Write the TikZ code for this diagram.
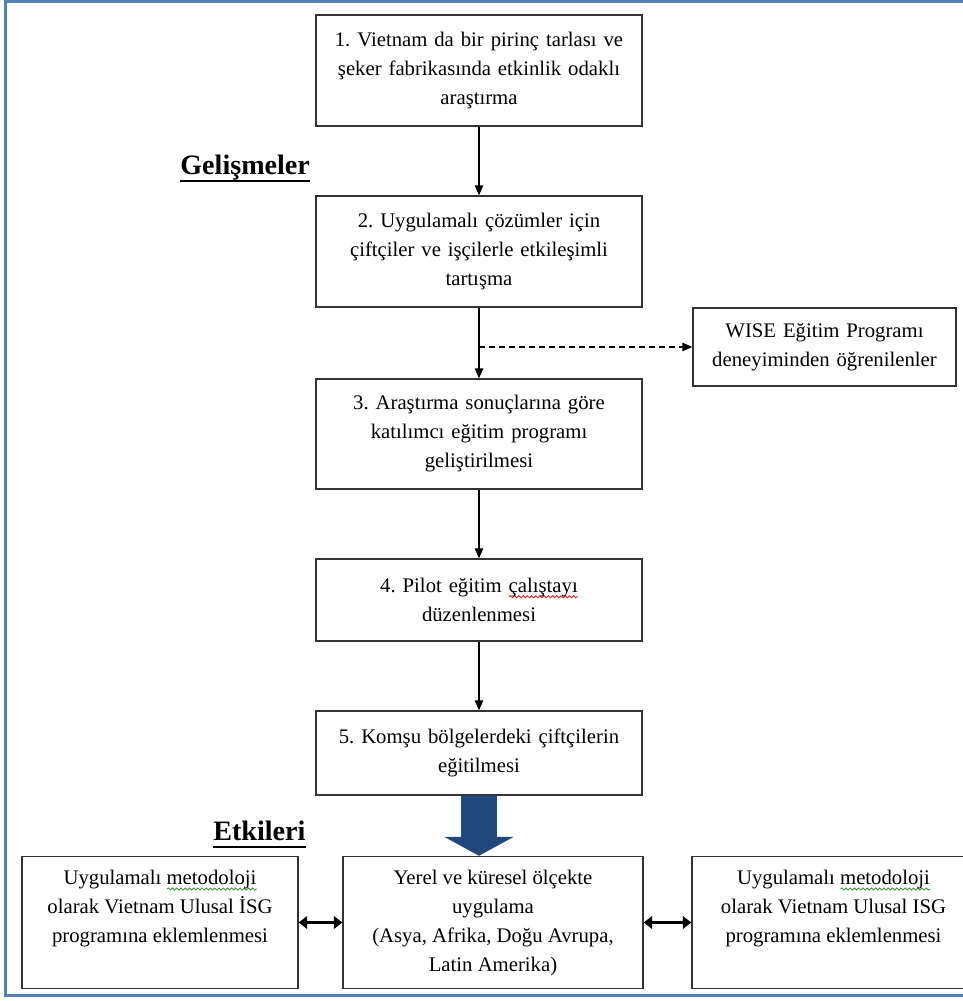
\documentclass[tikz,border=0pt]{standalone}
\usepackage{fontspec}
\setmainfont{Liberation Serif}
\usetikzlibrary{arrows.meta,shapes,decorations.pathmorphing}
\definecolor{frameblue}{HTML}{4F81BD}
\definecolor{arrowblue}{HTML}{1F497D}
\definecolor{spellred}{HTML}{E02020}
\definecolor{spellgreen}{HTML}{3A9A3A}
\frenchspacing
% wavy marks under words, as a spell checker draws them
\newsavebox{\spellbox}
\newcommand{\spellmark}[2]{\sbox{\spellbox}{#2}\leavevmode\rlap{\raisebox{-3.2pt}{\tikz\draw[#1, line width=0.5pt, decorate, decoration={snake, amplitude=0.6pt, segment length=2.4pt}] (0pt,0pt) -- (\the\wd\spellbox,0pt);}}\usebox{\spellbox}}
% text of the bottom boxes starts at the top
\newcommand{\impacttext}[2]{\parbox[c][2.08cm][t]{#1}{\centering #2}}
\tikzstyle{process}=[rectangle, draw=black!80
,line width=0.8pt
,align=center
,text width=6.2cm
,minimum width=6.52cm
,font=\fontsize{11.8}{16.5}\selectfont
]
\tikzstyle{side note} = [process, text width=5cm, minimum width=5.26cm]
\tikzstyle{impact} = [rectangle, draw=black!80, line width=0.8pt, inner xsep=0pt, inner ysep=8pt, font=\fontsize{11.8}{16.5}\selectfont]
\tikzstyle{heading} = [inner sep=0pt, anchor=base west, font=\fontsize{16}{19}\selectfont\bfseries]
\tikzstyle{flow} = [draw, line width=0.7pt, -{Triangle[length=0.2cm,width=0.17cm]}]
\tikzstyle{dashed flow} = [flow, dash pattern=on 0.12cm off 0.08cm]
\tikzstyle{link} = [draw, line width=1.7pt, {Triangle[length=0.17cm,width=0.25cm]}-{Triangle[length=0.17cm,width=0.25cm]}]
\tikzstyle{big flow} = [draw=arrowblue, line width=0.72cm, -{Triangle[length=0.38cm,width=1.38cm]}]
\tikzstyle{frame} = [draw=frameblue, line width=0.06cm]

\begin{document}
\begin{tikzpicture}[x=0.02cm, y=-0.02cm]
    \path[use as bounding box, clip] (0,0) rectangle (963,1001);
    % Blue frame round the figure
    \draw[frame] (5.5,1) rectangle (990,995.5);

    % First the steps of the development
    \node[process, minimum height=2.22cm] (S_1) at (479,70.5) {1. Vietnam da bir pirinç tarlası ve\\ şeker fabrikasında etkinlik odaklı\\ araştırma};
    \node[process, minimum height=2.22cm] (S_2) at (479,251.5) {2. Uygulamalı çözümler için\\ çiftçiler ve işçilerle etkileşimli\\ tartışma};
    \node[process, minimum height=2.2cm] (S_3) at (479,434) {3. Araştırma sonuçlarına göre\\ katılımcı eğitim programı\\ geliştirilmesi};
    \node[process, minimum height=1.64cm] (S_4) at (479,600) {4. Pilot eğitim \spellmark{spellred}{çalıştayı}\\ düzenlenmesi};
    \node[process, minimum height=1.68cm] (S_5) at (479,753) {5. Komşu bölgelerdeki çiftçilerin\\ eğitilmesi};
    \node[side note, minimum height=1.56cm] (W) at (824.5,347) {WISE Eğitim Programı\\ deneyiminden öğrenilenler};

    % Then the impacts
    \node[impact, minimum width=5.52cm] (E_1) at (160,922.5) {\impacttext{5.3cm}{Uygulamalı \spellmark{spellgreen}{metodoloji}\\ olarak Vietnam Ulusal İSG\\ programına eklemlenmesi}};
    \node[impact, minimum width=6cm] (E_2) at (493,922.5) {\impacttext{5.8cm}{Yerel ve küresel ölçekte\\ uygulama\\ (Asya, Afrika, Doğu Avrupa,\\ Latin Amerika)}};
    \node[impact, minimum width=5.66cm] (E_3) at (833.5,922.5) {\impacttext{5cm}{Uygulamalı \spellmark{spellgreen}{metodoloji}\\ olarak Vietnam Ulusal ISG\\ programına eklemlenmesi}\hspace{0.46cm}};

    % Headings
    \node[heading] (G) at (180,174) {Gelişmeler};
    \draw[line width=1.2pt] ([yshift=-4pt]G.base west) -- ([yshift=-4pt]G.base east);
    \node[heading] (I) at (213,840) {Etkileri};
    \draw[line width=1.2pt] ([yshift=-4pt]I.base west) -- ([yshift=-4pt]I.base east);

    % Connect the steps
    \foreach \source/\dest in {S_1/S_2, S_2/S_3, S_3/S_4, S_4/S_5}
        \path[flow] (\source) -- (\dest);
    \path[dashed flow] (S_2.south |- W.west) -- (W.west);
    \path[big flow] (S_5.south) -- (S_5.south |- E_2.north);
    \path[link] (E_1.east) -- (E_2.west);
    \path[link] (E_2.east) -- (E_3.west);
\end{tikzpicture}
\end{document}
